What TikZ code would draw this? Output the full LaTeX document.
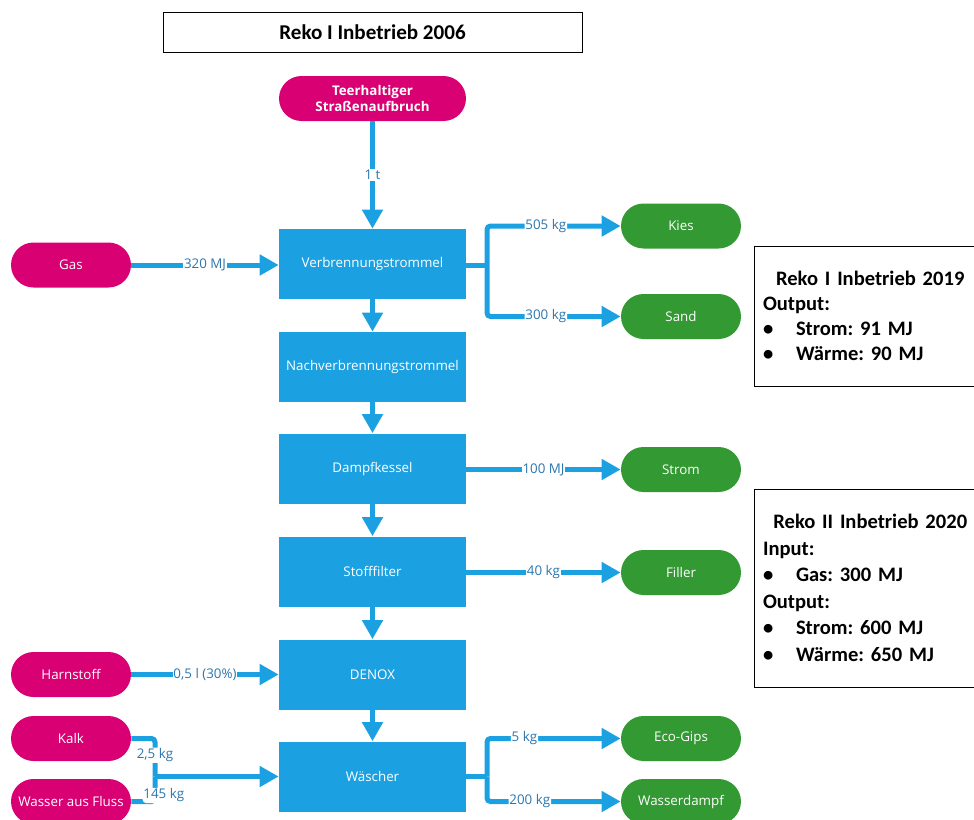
\documentclass[tikz,border=0pt]{standalone}
\usepackage{fontspec}
\setmainfont{Open Sans}
\newfontfamily\calib{Carlito}
\usepackage{xcolor}
\usepackage{tikz}
\usetikzlibrary{
  arrows.meta,
  calc
}
\frenchspacing
\definecolor{procblue}{HTML}{1BA1E2}
\definecolor{srcmag}{HTML}{D80073}
\definecolor{prodgreen}{HTML}{339933}
\definecolor{amtblue}{HTML}{2C76AE}
\tikzset{
  proc/.style={
    fill=procblue,
    text=white,
    minimum width=3.74cm,
    minimum height=1.4cm,
    font=\fontsize{7.6}{9}\selectfont},
  src/.style={
    fill=srcmag,
    text=white,
    rounded corners=0.45cm,
    minimum width=2.4cm,
    minimum height=0.9cm,
    font=\fontsize{7.6}{9}\selectfont},
  prod/.style={
    src,
    fill=prodgreen},
  flow/.style={
    draw=procblue,
    line width=0.1cm,
    -{Triangle[length=0.38cm,width=0.4cm]}},
  bentflow/.style={
    flow,
    rounded corners=2pt},
  amount/.style={
    fill=white,
    text=amtblue,
    inner sep=0.5pt,
    font=\fontsize{7.6}{9}\selectfont},
  infobox/.style={
    draw=black,
    thin,
    text width=4.04cm,
    inner xsep=0.18cm,
    align=left,
    font=\calib\bfseries\fontsize{11.7}{14.2}\selectfont}
  }
\newcommand{\bul}{\makebox[0.66cm][l]{\textbullet}}

\begin{document}
\begin{tikzpicture}[x=0.02cm,y=-0.02cm]
    \useasboundingbox (0,0) rectangle (974,819);
    \clip (0,0) rectangle (974,819);
    \node (title) [draw=black, thin, minimum width=8.38cm, minimum height=0.8cm,
      font=\calib\bfseries\fontsize{12}{14}\selectfont] at (372.5,32) {Reko I Inbetrieb 2006};
    % main line
    \node (teer) [src, minimum width=3.74cm, font=\bfseries\fontsize{7.6}{9}\selectfont,
      align=center] at (372.5,98.5) {Teerhaltiger\\Straßenaufbruch};
    \node (verb) [proc] at (372.5,264) {Verbrennungstrommel};
    \node (nach) [proc] at (372.5,367) {Nachverbrennungstrommel};
    \node (dampf) [proc] at (372.5,468.5) {Dampfkessel};
    \node (stoff) [proc] at (372.5,571.5) {Stofffilter};
    \node (denox) [proc] at (372.5,674.5) {DENOX};
    \node (wasch) [proc] at (372.5,776.5) {Wäscher};
    % inputs
    \node (gas) [src] at (71,265) {Gas};
    \node (harn) [src] at (71,674.5) {Harnstoff};
    \node (kalk) [src] at (71,738.5) {Kalk};
    \node (fluss) [src] at (71,801.5) {Wasser aus Fluss};
    % outputs
    \node (kies) [prod] at (681,226) {Kies};
    \node (sand) [prod] at (681,316.5) {Sand};
    \node (strom) [prod] at (681,469.5) {Strom};
    \node (filler) [prod] at (681,572.5) {Filler};
    \node (gips) [prod] at (681,738.5) {Eco-Gips};
    \node (dampfout) [prod] at (681,801.5) {Wasserdampf};
    % info
    \node (reko19) [infobox, minimum height=2.8cm] at (864,316) {%
      \makebox[4.04cm][c]{\hspace{0.25cm}Reko I Inbetrieb 2019}\\
      Output:\\
      \bul Strom: 91 MJ\\
      \bul Wärme: 90 MJ};
    \node (reko20) [infobox, minimum height=3.96cm,
      font=\calib\bfseries\fontsize{11.7}{15.1}\selectfont] at (864,588) {%
      \makebox[4.04cm][c]{\hspace{0.25cm}Reko II Inbetrieb 2020}\\
      Input:\\
      \bul Gas: 300 MJ\\
      Output:\\
      \bul Strom: 600 MJ\\
      \bul Wärme: 650 MJ};
    \coordinate (splitA) at (487,265);
    \coordinate (splitB) at (487,776.5);
    \coordinate (joinK) at (155,776.5);
    % straight flows
    \draw [flow] (teer) -- node[amount]{1 t} (verb);
    \draw [flow] (verb) -- (nach);
    \draw [flow] (nach) -- (dampf);
    \draw [flow] (dampf) -- (stoff);
    \draw [flow] (stoff) -- (denox);
    \draw [flow] (denox) -- (wasch);
    \draw [flow] (gas) -- node[amount]{320 MJ} (verb.west |- gas);
    \draw [flow] (harn) -- node[amount]{0,5 l (30\%)} (denox);
    \draw [flow] (dampf.east |- strom) -- node[amount]{100 MJ} (strom);
    \draw [flow] (stoff.east |- filler) -- node[amount]{40 kg} (filler);
    % branches
    \draw [flow, -] (verb.east |- splitA) -- (splitA);
    \draw [bentflow] (splitA) |- node[amount, pos=0.72]{505 kg} (kies);
    \draw [bentflow] (splitA) |- node[amount, pos=0.72]{300 kg} (sand);
    \draw [flow, -] (wasch.east) -- (splitB);
    \draw [bentflow] (splitB) |- node[amount, pos=0.64]{5 kg} (gips);
    \draw [bentflow] (splitB) |- node[amount, pos=0.66]{200 kg} (dampfout);
    \draw [bentflow, -] (kalk) -| node[amount, pos=0.72]{2,5 kg} (joinK);
    \draw [bentflow, -] (fluss) -| node[amount, pos=0.62, xshift=5pt]{145 kg} (joinK);
    \draw [flow] (joinK) -- (wasch);
  \end{tikzpicture}
\end{document}
